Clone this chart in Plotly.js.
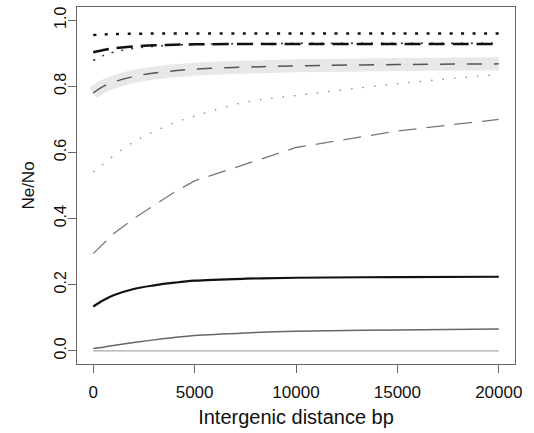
<!DOCTYPE html>
<html>
<head>
<meta charset="utf-8">
<script src="https://cdn.plot.ly/plotly-3.0.1.min.js"></script>
<style>html,body{margin:0;padding:0;background:#fff;}#chart{width:534px;height:433px;}</style>
</head>
<body>
<div id="chart"></div>
<script>
const distance = [0, 500, 1000, 2000, 3000, 4000, 5000, 7500, 10000, 15000, 20000];
const seriesTopDotted = [0.955, 0.957, 0.958, 0.959, 0.960, 0.960, 0.960, 0.960, 0.960, 0.960, 0.960];
const seriesLongDash = [0.903, 0.910, 0.915, 0.921, 0.924, 0.926, 0.927, 0.928, 0.928, 0.928, 0.928];
const seriesThinDotted = [0.878, 0.893, 0.903, 0.915, 0.921, 0.925, 0.927, 0.929, 0.930, 0.930, 0.930];
const seriesBand = [0.780, 0.800, 0.813, 0.830, 0.840, 0.847, 0.852, 0.858, 0.862, 0.866, 0.868];
const seriesGreyDotted = [0.541, 0.565, 0.590, 0.632, 0.663, 0.690, 0.710, 0.752, 0.772, 0.808, 0.836];
const seriesGreyDashed = [0.294, 0.325, 0.354, 0.400, 0.440, 0.480, 0.514, 0.565, 0.615, 0.665, 0.700];
const seriesBlackSolid = [0.134, 0.153, 0.168, 0.187, 0.198, 0.206, 0.212, 0.218, 0.221, 0.223, 0.224];
const seriesGreySolid = [0.007, 0.011, 0.016, 0.025, 0.033, 0.040, 0.046, 0.054, 0.059, 0.063, 0.066];
const seriesFlat = [0, 0, 0, 0, 0, 0, 0, 0, 0, 0, 0];
const xTicks = [0, 5000, 10000, 15000, 20000];
const yTicks = [0.0, 0.2, 0.4, 0.6, 0.8, 1.0];

function tr(y, color, width, dash, shape) {
  return {x: distance, y: y, type: 'scatter', mode: 'lines', hoverinfo: 'skip',
    line: {color: color, width: width, dash: dash, shape: shape || 'spline', smoothing: 1}};
}
const data = [
  tr(seriesFlat, '#aaaaaa', 1.2, 'solid', 'linear'),
  tr(seriesGreySolid, '#666666', 1.5, 'solid'),
  tr(seriesBlackSolid, '#111111', 2.2, 'solid'),
  tr(seriesGreyDashed, '#777777', 1.3, '18px,10px', 'linear'),
  tr(seriesGreyDotted, '#888888', 1.3, '1.5px,10px'),
  tr(seriesBand, '#e8e8e8', 13, 'solid'),
  tr(seriesBand, '#555555', 1.5, '15px,12px'),
  tr(seriesThinDotted, '#333333', 1.5, '2px,8px'),
  tr(seriesLongDash, '#111111', 2.5, '16px,8px'),
  tr(seriesTopDotted, '#111111', 2.5, '3px,8.5px')
];
const fnt = {family: 'Liberation Sans, Arial, sans-serif', color: '#111'};
const layout = {
  width: 534, height: 433,
  margin: {l: 77, r: 19, t: 7, b: 69},
  paper_bgcolor: '#fff', plot_bgcolor: '#fff',
  showlegend: false,
  xaxis: {range: [-800, 20800], tickvals: xTicks, ticktext: xTicks.map(String),
    showgrid: false, zeroline: false, showline: true, mirror: true, linecolor: '#666', linewidth: 1,
    ticks: 'outside', ticklen: 8, tickcolor: '#666', tickfont: Object.assign({size: 17}, fnt),
    ticklabelstandoff: 5,
    title: {text: 'Intergenic distance bp', font: Object.assign({size: 20}, fnt), standoff: 8}},
  yaxis: {range: [-0.04, 1.04], tickvals: yTicks, ticktext: yTicks.map(v => v.toFixed(1)),
    tickangle: -90,
    showgrid: false, zeroline: false, showline: true, mirror: true, linecolor: '#666', linewidth: 1,
    ticks: 'outside', ticklen: 8, tickcolor: '#666', tickfont: Object.assign({size: 16}, fnt),
    ticklabelstandoff: -4,
    title: {text: 'Ne/No', font: Object.assign({size: 17}, fnt), standoff: 12}}
};
Plotly.newPlot('chart', data, layout, {staticPlot: true, displayModeBar: false});
</script>
</body>
</html>
